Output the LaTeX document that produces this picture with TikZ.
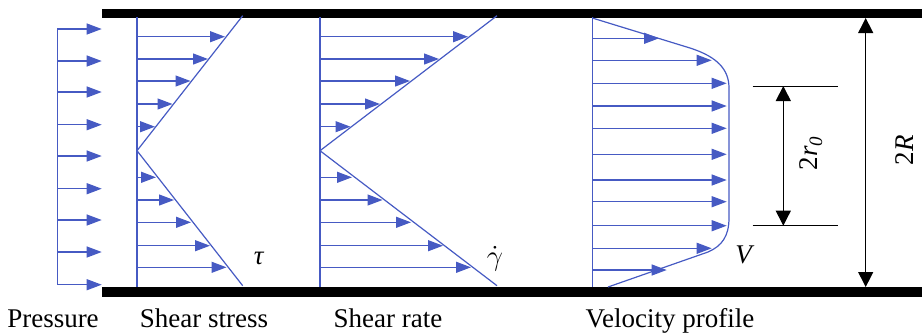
\documentclass[tikz,border=0pt]{standalone}
\usepackage{fontspec}
\setmainfont{Liberation Serif}
\usetikzlibrary{arrows.meta}
\definecolor{flowblue}{HTML}{465AC3}

\begin{document}
\begin{tikzpicture}[x=0.5pt,y=-0.5pt,
    flow/.style={flowblue, line width=0.6pt},
    flowarrow/.style={flow, -{Triangle[length=7.5pt,width=5.5pt]}},
    dimarrow/.style={black, line width=0.5pt, {Triangle[length=7.5pt,width=7.5pt]}-{Triangle[length=7.5pt,width=7.5pt]}},
    lbl/.style={font=\fontsize{13.5}{16}\selectfont, anchor=base},
    sym/.style={font=\fontsize{13.5}{16}\selectfont}]
\useasboundingbox (0,0) rectangle (922,334);

% Pipe walls
\fill[black] (102,9) rectangle (922,18);
\fill[black] (102,287) rectangle (922,297);

% Pressure (uniform)
\draw[flow] (57.3,29) -- (57.3,284.7);
\foreach \y in {29, 61, 92, 124.7, 156, 188.7, 220, 252, 284.7} {
    \draw[flowarrow] (57.3,\y) -- (101.7,\y);
}

% Shear stress (linear, zero at the axis)
\draw[flow] (137,17) -- (137,287);
\draw[flow] (242.7,15.7) -- (137,150.7) -- (242.7,285.7);
\foreach \y/\x in {36.7/225, 59/208, 81/190.5, 104/172.5, 126.7/155,
                   177.3/156, 200/174, 222.3/191, 245.7/210, 267.3/226.5} {
    \draw[flowarrow] (137,\y) -- (\x,\y);
}

% Shear rate
\draw[flow] (320,17) -- (320,287);
\draw[flow] (497,15.7) -- (320,150.7) -- (497,285.7);
\foreach \y/\x in {36.7/468, 59/439, 81/410, 104/380, 126.7/350.5,
                   177.3/352, 200/382.5, 222.3/411, 245.7/443, 267.3/471} {
    \draw[flowarrow] (320,\y) -- (\x,\y);
}

% Velocity profile (plug core)
\draw[flow] (592.3,17) -- (592.3,287);
\draw[flow] (592.3,18) -- (690,48) .. controls (718,57) and (729,70) .. (729,88)
    -- (729,218) .. controls (729,236) and (722,246) .. (708,252) -- (608,287);
\foreach \y/\x in {38.3/659, 60.3/711.7, 83.3/726.7, 106/726.7, 128.3/726.7,
                   154.3/726.7, 180/726.7, 201.7/726.7, 225.7/726.7,
                   248.3/711.7, 270/666.7} {
    \draw[flowarrow] (592.3,\y) -- (\x,\y);
}

% Plug radius 2r_0
\draw[line width=0.5pt] (752.7,86) -- (838,86);
\draw[line width=0.5pt] (752.7,225.7) -- (838,225.7);
\coordinate (rtop) at (783.3,86);
\coordinate (rbot) at (783.3,225.7);
\draw[dimarrow] (rtop) -- (rbot);
\node[sym, rotate=90] (rlabel) at (811,153) {2\textit{r}\textsubscript{\textit{0}}};

% Pipe radius 2R
\coordinate (Rtop) at (865.7,18);
\coordinate (Rbot) at (865.7,287);
\draw[dimarrow] (Rtop) -- (Rbot);
\node[sym, rotate=90] (Rlabel) at (905,150) {2\textit{R}};

% Symbols
\node[sym] (tau) at (259,258) {\textit{τ}};
\node[sym] (gammadot) at (495,259) {$\dot{\gamma}$};
\node[sym] (vel) at (745,255) {\textit{V}};

% Captions
\node[lbl] (pressure) at (53,327) {Pressure};
\node[lbl] (stress) at (204,327) {Shear stress};
\node[lbl] (rate) at (388,327) {Shear rate};
\node[lbl] (profile) at (670,327) {Velocity profile};

\end{tikzpicture}
\end{document}
